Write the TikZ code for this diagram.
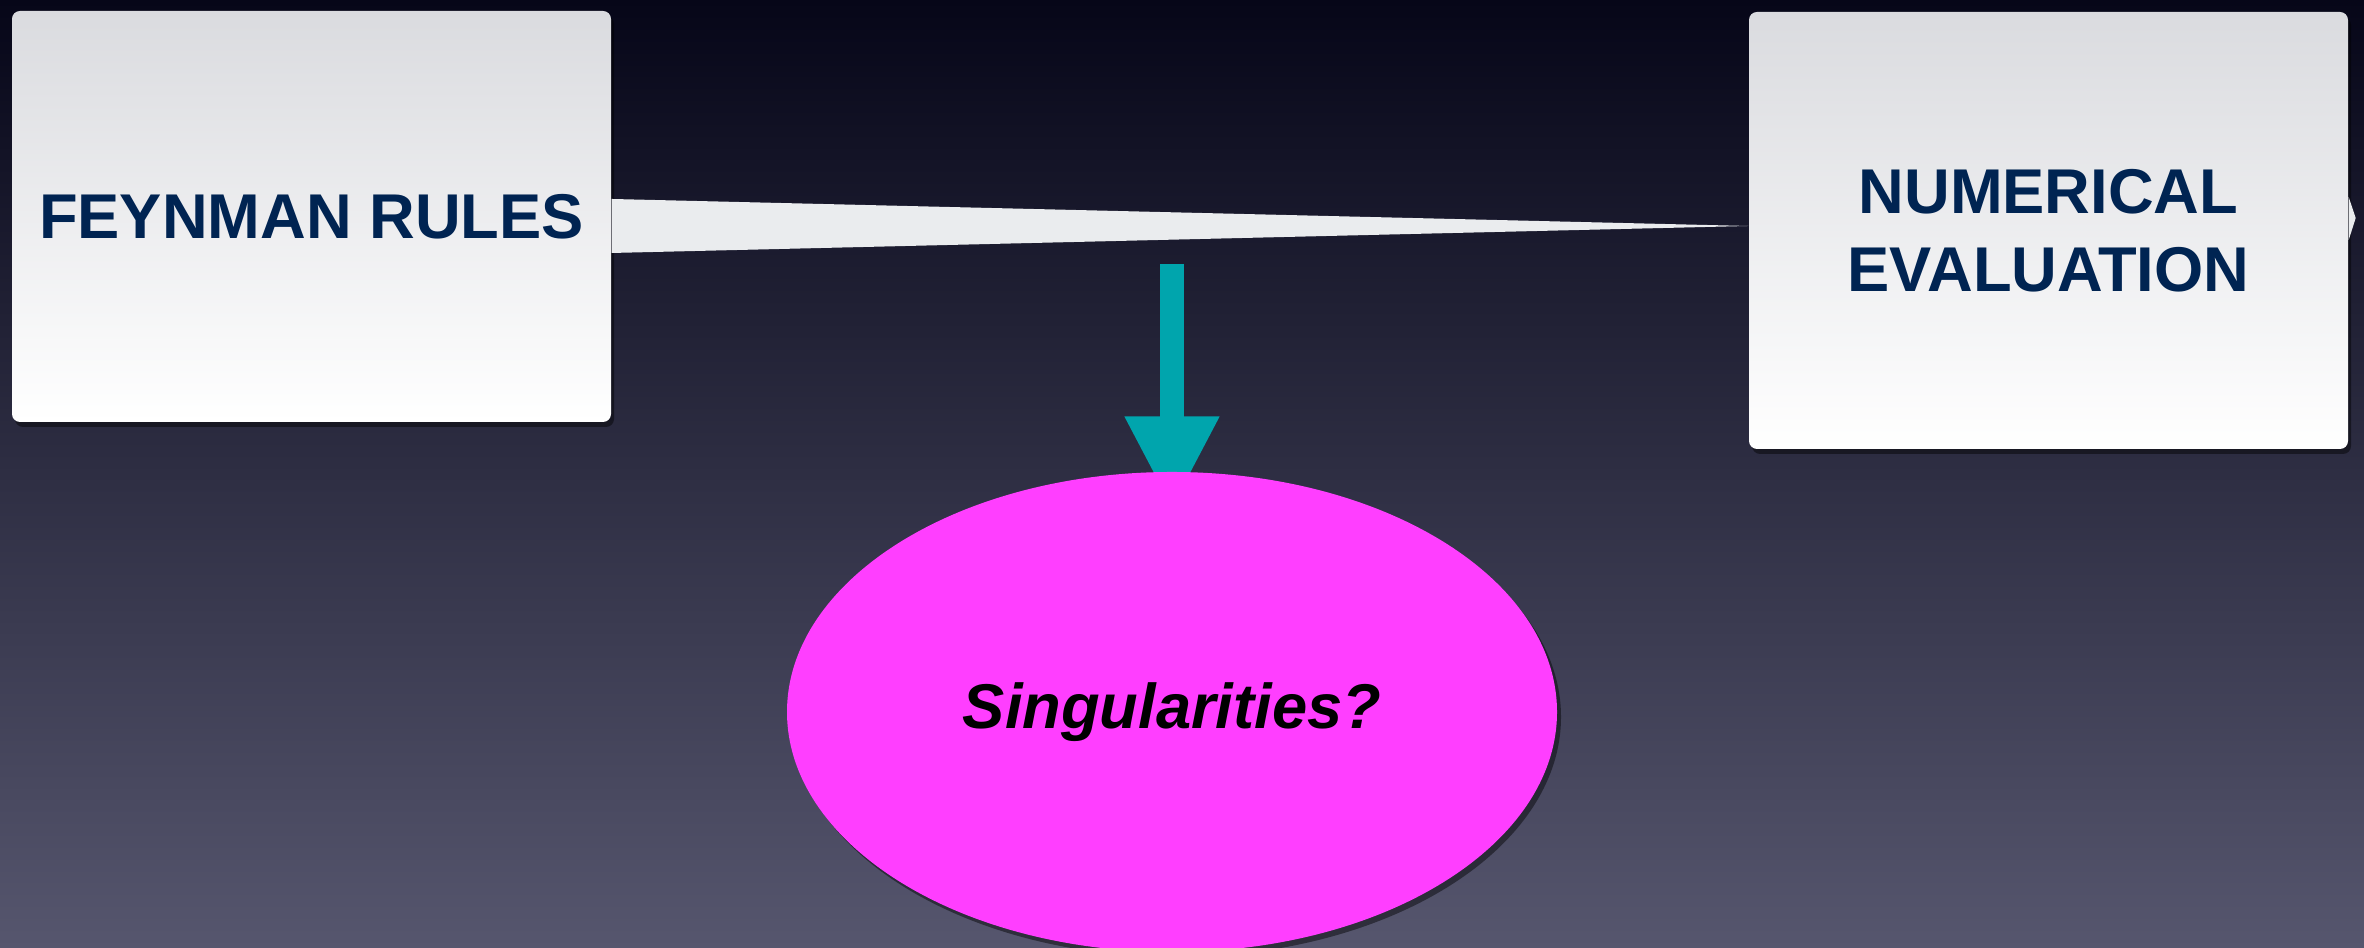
\documentclass[tikz,border=0pt]{standalone}
\usepackage{fontspec}
\setmainfont{Liberation Sans}
\usetikzlibrary{calc,shadows,shapes.geometric,arrows.meta,backgrounds}
\definecolor{cbgtop}{RGB}{  6,  6, 24}
\definecolor{cbgmid}{RGB}{ 38, 38, 68}
\definecolor{cbgbot}{RGB}{ 86, 86,110}
\definecolor{cboxtop}{RGB}{218,219,223}
\definecolor{cwedge}{RGB}{234,236,238}
\definecolor{ctext}{RGB}{  0, 36, 82}
\definecolor{cteal}{RGB}{  0,165,173}
\definecolor{cpink}{RGB}{255, 62,255}
\tikzset{
  stagebox/.style={rectangle,rounded corners=0.08cm,minimum width=5.99cm,inner sep=0pt,
    top color=cboxtop,bottom color=white,
    drop shadow={fill=black,opacity=0.45,shadow xshift=0.03cm,shadow yshift=-0.05cm},
    text=ctext,align=center,font=\bfseries\fontsize{18}{22.2}\selectfont},
  blob/.style={ellipse,minimum width=7.7cm,minimum height=4.8cm,inner sep=0pt,fill=cpink,
    drop shadow={fill=black,opacity=0.45,shadow xshift=0.04cm,shadow yshift=-0.05cm},
    text=black,font=\bfseries\itshape\fontsize{18}{22}\selectfont},
  downarrow/.style={draw=cteal,line width=0.24cm,
    -{Triangle[width=0.88cm,length=0.93cm,fill=cteal]}}
}
\begin{document}
\begin{tikzpicture}[x=1cm,y=1cm]

  % Fixed frame: 2364 x 948 at 100 px per cm
  \useasboundingbox (0,0) rectangle (23.64,9.48);

  % ---------------- Stages ----------------
  \node[stagebox,minimum height=4.11cm] (rules) at (3.115,7.315) {FEYNMAN RULES};
  \node[stagebox,minimum height=4.37cm] (numeval) at (20.485,7.175) {NUMERICAL\\EVALUATION};

  % tapering link from the rules to the evaluation
  \fill[cwedge] ($(rules.east)+(0,0.175)$) -- ($(numeval.west)+(0,0.045)$)
    -- ($(rules.east)+(0,-0.365)$) -- cycle;
  % small tab on the right edge
  \fill[cwedge] ($(numeval.east)+(0,0.335)$) -- ($(numeval.east)+(0.07,0.125)$)
    -- ($(numeval.east)+(0,-0.095)$) -- cycle;

  % ---------------- Question ----------------
  \node[blob] (sing) at (11.72,2.36) {Singularities?};
  \coordinate (drop) at (11.72,6.84);

  \begin{scope}[on background layer]
    \shade[top color=cbgtop,middle color=cbgmid,bottom color=cbgbot] (0,0) rectangle (23.64,9.48);
    % arrow runs under the ellipse
    \draw[downarrow,shorten >=-0.38cm] (drop) -- (sing.north);
  \end{scope}

\end{tikzpicture}
\end{document}
